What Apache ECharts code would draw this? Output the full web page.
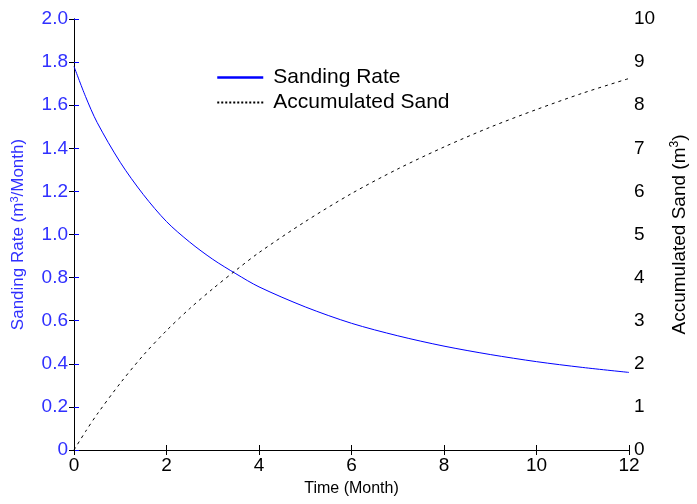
<!DOCTYPE html>
<html>
<head>
<meta charset="utf-8">
<script src="https://cdn.jsdelivr.net/npm/echarts@6/dist/echarts.min.js"></script>
<style>
html,body{margin:0;padding:0;background:#fff;}
#chart{width:697px;height:504px;}
</style>
</head>
<body>
<div id="chart"></div>
<script>
// Data
var time = [0, 0.25, 0.5, 1, 1.5, 2, 2.5, 3, 3.5, 4, 5, 6, 7, 8, 9, 10, 11, 12];
var sandingRate = [1.78, 1.64, 1.52, 1.335, 1.185, 1.06, 0.965, 0.885, 0.818, 0.757, 0.664, 0.588, 0.53, 0.482, 0.443, 0.41, 0.383, 0.36];
var accumulatedSand = [0, 0.43, 0.83, 1.55, 2.2, 2.77, 3.28, 3.74, 4.17, 4.58, 5.3, 5.95, 6.52, 7.03, 7.49, 7.9, 8.28, 8.62];
var seriesNames = ['Sanding Rate', 'Accumulated Sand'];

var FONT = 'Liberation Sans, Arial, Helvetica, sans-serif';
var BLUE = '#0000ff';
var BLUE_TXT = '#3030ff';

function pairs(xs, ys) { return xs.map(function (x, i) { return [x, ys[i]]; }); }

var chart = echarts.init(document.getElementById('chart'), null, {renderer: 'canvas'});
chart.setOption({
  animation: false,
  backgroundColor: '#fff',
  textStyle: {fontFamily: FONT},
  grid: {left: 74, right: 62, top: 19, bottom: 54, containLabel: false},
  legend: {
    orient: 'vertical',
    left: 216,
    top: 67,
    itemWidth: 46,
    itemHeight: 12,
    itemGap: 4,
    padding: 0,
    backgroundColor: '#fff',
    textStyle: {fontSize: 21, color: '#000', fontFamily: FONT, lineHeight: 21, padding: [0, 0, 0, 5]},
    data: [
      {name: seriesNames[0], itemStyle: {opacity: 0}, lineStyle: {width: 2.5, color: BLUE, type: 'solid'}},
      {name: seriesNames[1], itemStyle: {opacity: 0}, lineStyle: {width: 2, color: '#000', type: [2, 2]}}
    ]
  },
  xAxis: [{
    type: 'value', position: 'bottom', min: 0, max: 12, interval: 2,
    name: 'Time (Month)', nameLocation: 'middle', nameGap: 31,
    nameTextStyle: {fontSize: 16, color: '#000', fontFamily: FONT},
    axisLine: {show: true, lineStyle: {color: '#000', width: 1}},
    axisTick: {show: true, inside: true, length: 5, lineStyle: {color: '#000'}},
    axisLabel: {fontSize: 19, color: '#000', margin: 6, fontFamily: FONT},
    splitLine: {show: false}
  }, {
    type: 'value', position: 'top', min: 0, max: 12, interval: 2,
    axisLine: {show: true, lineStyle: {color: '#000', width: 1}},
    axisTick: {show: true, inside: true, length: 5, lineStyle: {color: '#000'}},
    axisLabel: {show: false},
    splitLine: {show: false}
  }],
  yAxis: [{
    type: 'value', position: 'left', min: 0, max: 2, interval: 0.2,
    name: 'Sanding Rate (m{sup|3}/Month)', nameLocation: 'middle', nameGap: 46, nameRotate: 90,
    nameTextStyle: {fontSize: 17, color: BLUE_TXT, fontFamily: FONT,
      rich: {sup: {fontSize: 11, color: BLUE_TXT, verticalAlign: 'top', padding: [0, 0, 8, 0], fontFamily: FONT}}},
    axisLine: {show: true, lineStyle: {color: BLUE, width: 1}},
    axisTick: {show: true, inside: true, length: 5, lineStyle: {color: BLUE}},
    axisLabel: {fontSize: 19, color: BLUE_TXT, margin: 6, fontFamily: FONT,
      formatter: function (v) { return v === 0 ? '0' : v.toFixed(1); }},
    splitLine: {show: false}
  }, {
    type: 'value', position: 'right', min: 0, max: 10, interval: 1,
    name: 'Accumulated Sand (m{sup|3})', nameLocation: 'middle', nameGap: 40, nameRotate: 90,
    nameTextStyle: {fontSize: 19, color: '#000', fontFamily: FONT,
      rich: {sup: {fontSize: 12, color: '#000', verticalAlign: 'top', padding: [0, 0, 9, 0], fontFamily: FONT}}},
    axisLine: {show: true, lineStyle: {color: '#000', width: 1}},
    axisTick: {show: true, inside: true, length: 5, lineStyle: {color: '#000'}},
    axisLabel: {fontSize: 19, color: '#000', margin: 5, fontFamily: FONT},
    splitLine: {show: false}
  }],
  series: [{
    name: seriesNames[0], type: 'line', xAxisIndex: 0, yAxisIndex: 0,
    data: pairs(time, sandingRate), smooth: 0.3, showSymbol: false, symbol: 'none',
    lineStyle: {color: BLUE, width: 1}, itemStyle: {color: BLUE}
  }, {
    name: seriesNames[1], type: 'line', xAxisIndex: 0, yAxisIndex: 1,
    data: pairs(time, accumulatedSand), smooth: 0.3, showSymbol: false, symbol: 'none',
    lineStyle: {color: '#000', width: 1, type: [3, 4]}, itemStyle: {color: '#000'}
  }]
});
</script>
</body>
</html>
